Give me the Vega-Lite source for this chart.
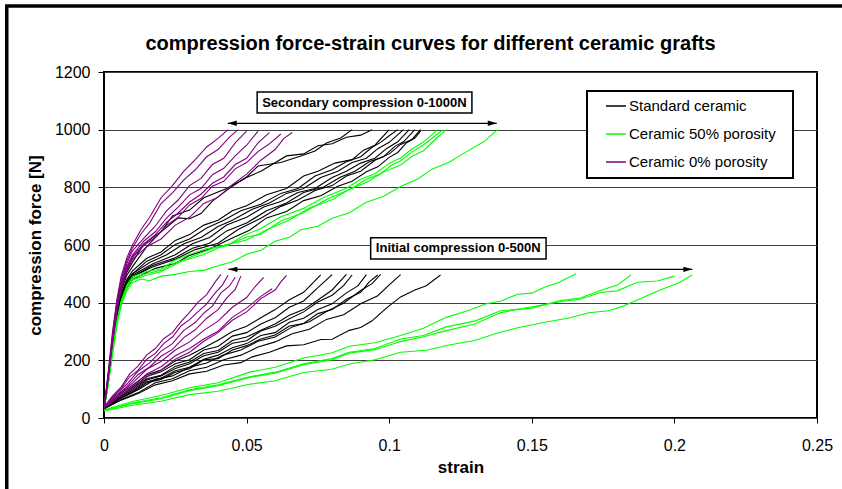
{
"$schema":"https://vega.github.io/schema/vega-lite/v6.json",
"width":713,"height":346,
"autosize":{"type":"none"},
"padding":{"left":104,"top":72,"right":25,"bottom":71},
"background":"#ffffff",
"title":{"text":"compression force-strain curves for different ceramic grafts","fontSize":20,"fontWeight":"bold","font":"Liberation Sans","color":"#000000","anchor":"middle","frame":"group","dx":-30,"offset":-66,"baseline":"alphabetic"},
"datasets":{
"notes":[
{"label":"Secondary compression 0-1000N","x1":0.0537,"x2":0.129,"y1":1130.6,"y2":1057.7,"cx":0.0913,"cy":1094},
{"label":"Initial compression 0-500N","x1":0.0935,"x2":0.155,"y1":625.3,"y2":551.4,"cx":0.1242,"cy":588.5}
],
"arrows":[
{"from":0.0434,"to":0.1377,"level":1022},
{"from":0.0436,"to":0.2063,"level":515.6}
],
"curves":[
{"type":"S","run":"bi1","strain":0,"force":35},{"type":"S","run":"bi1","strain":0.005,"force":80},{"type":"S","run":"bi1","strain":0.01,"force":114},{"type":"S","run":"bi1","strain":0.015,"force":150},{"type":"S","run":"bi1","strain":0.02,"force":166},{"type":"S","run":"bi1","strain":0.025,"force":198},{"type":"S","run":"bi1","strain":0.03,"force":218},{"type":"S","run":"bi1","strain":0.035,"force":244},{"type":"S","run":"bi1","strain":0.04,"force":270},{"type":"S","run":"bi1","strain":0.045,"force":300},{"type":"S","run":"bi1","strain":0.05,"force":318},{"type":"S","run":"bi1","strain":0.055,"force":348},{"type":"S","run":"bi1","strain":0.06,"force":376},{"type":"S","run":"bi1","strain":0.065,"force":410},{"type":"S","run":"bi1","strain":0.07,"force":436},{"type":"S","run":"bi1","strain":0.073,"force":466},{"type":"S","run":"bi1","strain":0.076,"force":496},
{"type":"S","run":"bi2","strain":0,"force":35},{"type":"S","run":"bi2","strain":0.005,"force":74},{"type":"S","run":"bi2","strain":0.01,"force":106},{"type":"S","run":"bi2","strain":0.015,"force":144},{"type":"S","run":"bi2","strain":0.02,"force":160},{"type":"S","run":"bi2","strain":0.025,"force":188},{"type":"S","run":"bi2","strain":0.03,"force":202},{"type":"S","run":"bi2","strain":0.035,"force":236},{"type":"S","run":"bi2","strain":0.04,"force":248},{"type":"S","run":"bi2","strain":0.045,"force":284},{"type":"S","run":"bi2","strain":0.05,"force":296},{"type":"S","run":"bi2","strain":0.055,"force":326},{"type":"S","run":"bi2","strain":0.06,"force":348},{"type":"S","run":"bi2","strain":0.065,"force":384},{"type":"S","run":"bi2","strain":0.07,"force":406},{"type":"S","run":"bi2","strain":0.075,"force":452},{"type":"S","run":"bi2","strain":0.08,"force":497},
{"type":"S","run":"bi3","strain":0,"force":33},{"type":"S","run":"bi3","strain":0.005,"force":72},{"type":"S","run":"bi3","strain":0.01,"force":101},{"type":"S","run":"bi3","strain":0.015,"force":136},{"type":"S","run":"bi3","strain":0.02,"force":148},{"type":"S","run":"bi3","strain":0.025,"force":179},{"type":"S","run":"bi3","strain":0.03,"force":194},{"type":"S","run":"bi3","strain":0.035,"force":224},{"type":"S","run":"bi3","strain":0.04,"force":234},{"type":"S","run":"bi3","strain":0.045,"force":269},{"type":"S","run":"bi3","strain":0.05,"force":281},{"type":"S","run":"bi3","strain":0.055,"force":304},{"type":"S","run":"bi3","strain":0.06,"force":326},{"type":"S","run":"bi3","strain":0.065,"force":356},{"type":"S","run":"bi3","strain":0.07,"force":376},{"type":"S","run":"bi3","strain":0.075,"force":409},{"type":"S","run":"bi3","strain":0.08,"force":444},{"type":"S","run":"bi3","strain":0.085,"force":498},
{"type":"S","run":"bi4","strain":0,"force":34},{"type":"S","run":"bi4","strain":0.005,"force":70},{"type":"S","run":"bi4","strain":0.01,"force":96},{"type":"S","run":"bi4","strain":0.015,"force":132},{"type":"S","run":"bi4","strain":0.02,"force":146},{"type":"S","run":"bi4","strain":0.025,"force":172},{"type":"S","run":"bi4","strain":0.03,"force":188},{"type":"S","run":"bi4","strain":0.035,"force":216},{"type":"S","run":"bi4","strain":0.04,"force":228},{"type":"S","run":"bi4","strain":0.045,"force":259},{"type":"S","run":"bi4","strain":0.05,"force":268},{"type":"S","run":"bi4","strain":0.055,"force":302},{"type":"S","run":"bi4","strain":0.06,"force":318},{"type":"S","run":"bi4","strain":0.065,"force":344},{"type":"S","run":"bi4","strain":0.07,"force":368},{"type":"S","run":"bi4","strain":0.075,"force":402},{"type":"S","run":"bi4","strain":0.08,"force":426},{"type":"S","run":"bi4","strain":0.084,"force":459},{"type":"S","run":"bi4","strain":0.087,"force":496},
{"type":"S","run":"bi5","strain":0,"force":32},{"type":"S","run":"bi5","strain":0.005,"force":67},{"type":"S","run":"bi5","strain":0.01,"force":92},{"type":"S","run":"bi5","strain":0.015,"force":126},{"type":"S","run":"bi5","strain":0.02,"force":138},{"type":"S","run":"bi5","strain":0.025,"force":164},{"type":"S","run":"bi5","strain":0.03,"force":176},{"type":"S","run":"bi5","strain":0.035,"force":204},{"type":"S","run":"bi5","strain":0.04,"force":218},{"type":"S","run":"bi5","strain":0.045,"force":244},{"type":"S","run":"bi5","strain":0.05,"force":258},{"type":"S","run":"bi5","strain":0.055,"force":286},{"type":"S","run":"bi5","strain":0.06,"force":296},{"type":"S","run":"bi5","strain":0.065,"force":332},{"type":"S","run":"bi5","strain":0.07,"force":346},{"type":"S","run":"bi5","strain":0.075,"force":376},{"type":"S","run":"bi5","strain":0.08,"force":396},{"type":"S","run":"bi5","strain":0.085,"force":434},{"type":"S","run":"bi5","strain":0.089,"force":458},{"type":"S","run":"bi5","strain":0.092,"force":497},
{"type":"S","run":"bi6","strain":0,"force":32},{"type":"S","run":"bi6","strain":0.005,"force":64},{"type":"S","run":"bi6","strain":0.01,"force":88},{"type":"S","run":"bi6","strain":0.015,"force":122},{"type":"S","run":"bi6","strain":0.02,"force":134},{"type":"S","run":"bi6","strain":0.025,"force":159},{"type":"S","run":"bi6","strain":0.03,"force":171},{"type":"S","run":"bi6","strain":0.035,"force":202},{"type":"S","run":"bi6","strain":0.04,"force":206},{"type":"S","run":"bi6","strain":0.045,"force":236},{"type":"S","run":"bi6","strain":0.05,"force":251},{"type":"S","run":"bi6","strain":0.055,"force":274},{"type":"S","run":"bi6","strain":0.06,"force":288},{"type":"S","run":"bi6","strain":0.065,"force":319},{"type":"S","run":"bi6","strain":0.07,"force":328},{"type":"S","run":"bi6","strain":0.075,"force":362},{"type":"S","run":"bi6","strain":0.08,"force":376},{"type":"S","run":"bi6","strain":0.085,"force":412},{"type":"S","run":"bi6","strain":0.09,"force":436},{"type":"S","run":"bi6","strain":0.093,"force":472},{"type":"S","run":"bi6","strain":0.096,"force":496},
{"type":"S","run":"bi7","strain":0,"force":33},{"type":"S","run":"bi7","strain":0.006,"force":70},{"type":"S","run":"bi7","strain":0.012,"force":98},{"type":"S","run":"bi7","strain":0.018,"force":134},{"type":"S","run":"bi7","strain":0.024,"force":146},{"type":"S","run":"bi7","strain":0.03,"force":176},{"type":"S","run":"bi7","strain":0.036,"force":191},{"type":"S","run":"bi7","strain":0.042,"force":219},{"type":"S","run":"bi7","strain":0.048,"force":236},{"type":"S","run":"bi7","strain":0.054,"force":266},{"type":"S","run":"bi7","strain":0.06,"force":281},{"type":"S","run":"bi7","strain":0.066,"force":316},{"type":"S","run":"bi7","strain":0.072,"force":334},{"type":"S","run":"bi7","strain":0.078,"force":369},{"type":"S","run":"bi7","strain":0.084,"force":398},{"type":"S","run":"bi7","strain":0.09,"force":442},{"type":"S","run":"bi7","strain":0.094,"force":466},{"type":"S","run":"bi7","strain":0.097,"force":498},
{"type":"S","run":"bi8","strain":0,"force":32},{"type":"S","run":"bi8","strain":0.006,"force":64},{"type":"S","run":"bi8","strain":0.012,"force":88},{"type":"S","run":"bi8","strain":0.018,"force":122},{"type":"S","run":"bi8","strain":0.024,"force":136},{"type":"S","run":"bi8","strain":0.03,"force":164},{"type":"S","run":"bi8","strain":0.036,"force":176},{"type":"S","run":"bi8","strain":0.042,"force":202},{"type":"S","run":"bi8","strain":0.048,"force":218},{"type":"S","run":"bi8","strain":0.054,"force":246},{"type":"S","run":"bi8","strain":0.06,"force":264},{"type":"S","run":"bi8","strain":0.066,"force":292},{"type":"S","run":"bi8","strain":0.072,"force":308},{"type":"S","run":"bi8","strain":0.078,"force":342},{"type":"S","run":"bi8","strain":0.084,"force":358},{"type":"S","run":"bi8","strain":0.09,"force":396},{"type":"S","run":"bi8","strain":0.096,"force":424},{"type":"S","run":"bi8","strain":0.1,"force":462},{"type":"S","run":"bi8","strain":0.104,"force":497},
{"type":"S","run":"bi9","strain":0,"force":32},{"type":"S","run":"bi9","strain":0.006,"force":62},{"type":"S","run":"bi9","strain":0.012,"force":85},{"type":"S","run":"bi9","strain":0.018,"force":115},{"type":"S","run":"bi9","strain":0.024,"force":129},{"type":"S","run":"bi9","strain":0.03,"force":153},{"type":"S","run":"bi9","strain":0.036,"force":162},{"type":"S","run":"bi9","strain":0.042,"force":184},{"type":"S","run":"bi9","strain":0.048,"force":192},{"type":"S","run":"bi9","strain":0.052,"force":212},{"type":"S","run":"bi9","strain":0.058,"force":228},{"type":"S","run":"bi9","strain":0.064,"force":250},{"type":"S","run":"bi9","strain":0.07,"force":254},{"type":"S","run":"bi9","strain":0.076,"force":272},{"type":"S","run":"bi9","strain":0.08,"force":273},{"type":"S","run":"bi9","strain":0.086,"force":304},{"type":"S","run":"bi9","strain":0.09,"force":314},{"type":"S","run":"bi9","strain":0.094,"force":337},{"type":"S","run":"bi9","strain":0.099,"force":381},{"type":"S","run":"bi9","strain":0.104,"force":420},{"type":"S","run":"bi9","strain":0.109,"force":444},{"type":"S","run":"bi9","strain":0.113,"force":459},{"type":"S","run":"bi9","strain":0.118,"force":496},
{"type":"S","run":"bs1","strain":0,"force":30},{"type":"S","run":"bs1","strain":0.0015,"force":145},{"type":"S","run":"bs1","strain":0.003,"force":270},{"type":"S","run":"bs1","strain":0.0045,"force":375},{"type":"S","run":"bs1","strain":0.006,"force":450},{"type":"S","run":"bs1","strain":0.008,"force":505},{"type":"S","run":"bs1","strain":0.01,"force":540},{"type":"S","run":"bs1","strain":0.014,"force":604},{"type":"S","run":"bs1","strain":0.02,"force":646},{"type":"S","run":"bs1","strain":0.026,"force":694},{"type":"S","run":"bs1","strain":0.03,"force":691},{"type":"S","run":"bs1","strain":0.034,"force":709},{"type":"S","run":"bs1","strain":0.038,"force":752},{"type":"S","run":"bs1","strain":0.045,"force":804},{"type":"S","run":"bs1","strain":0.05,"force":836},{"type":"S","run":"bs1","strain":0.054,"force":874},{"type":"S","run":"bs1","strain":0.062,"force":886},{"type":"S","run":"bs1","strain":0.069,"force":909},{"type":"S","run":"bs1","strain":0.074,"force":926},{"type":"S","run":"bs1","strain":0.078,"force":954},{"type":"S","run":"bs1","strain":0.083,"force":971},{"type":"S","run":"bs1","strain":0.087,"force":1000},
{"type":"S","run":"bs2","strain":0,"force":30},{"type":"S","run":"bs2","strain":0.0015,"force":140},{"type":"S","run":"bs2","strain":0.003,"force":265},{"type":"S","run":"bs2","strain":0.0045,"force":370},{"type":"S","run":"bs2","strain":0.006,"force":440},{"type":"S","run":"bs2","strain":0.008,"force":495},{"type":"S","run":"bs2","strain":0.01,"force":525},{"type":"S","run":"bs2","strain":0.015,"force":594},{"type":"S","run":"bs2","strain":0.02,"force":646},{"type":"S","run":"bs2","strain":0.024,"force":701},{"type":"S","run":"bs2","strain":0.03,"force":721},{"type":"S","run":"bs2","strain":0.035,"force":764},{"type":"S","run":"bs2","strain":0.043,"force":796},{"type":"S","run":"bs2","strain":0.05,"force":834},{"type":"S","run":"bs2","strain":0.055,"force":856},{"type":"S","run":"bs2","strain":0.064,"force":909},{"type":"S","run":"bs2","strain":0.07,"force":916},{"type":"S","run":"bs2","strain":0.075,"force":944},{"type":"S","run":"bs2","strain":0.08,"force":951},{"type":"S","run":"bs2","strain":0.085,"force":974},{"type":"S","run":"bs2","strain":0.09,"force":981},{"type":"S","run":"bs2","strain":0.094,"force":1000},
{"type":"S","run":"bs3","strain":0,"force":30},{"type":"S","run":"bs3","strain":0.0015,"force":138},{"type":"S","run":"bs3","strain":0.003,"force":260},{"type":"S","run":"bs3","strain":0.0045,"force":360},{"type":"S","run":"bs3","strain":0.006,"force":430},{"type":"S","run":"bs3","strain":0.008,"force":480},{"type":"S","run":"bs3","strain":0.01,"force":510},{"type":"S","run":"bs3","strain":0.015,"force":554},{"type":"S","run":"bs3","strain":0.02,"force":576},{"type":"S","run":"bs3","strain":0.025,"force":616},{"type":"S","run":"bs3","strain":0.03,"force":636},{"type":"S","run":"bs3","strain":0.035,"force":669},{"type":"S","run":"bs3","strain":0.04,"force":686},{"type":"S","run":"bs3","strain":0.045,"force":719},{"type":"S","run":"bs3","strain":0.05,"force":736},{"type":"S","run":"bs3","strain":0.057,"force":774},{"type":"S","run":"bs3","strain":0.064,"force":796},{"type":"S","run":"bs3","strain":0.07,"force":839},{"type":"S","run":"bs3","strain":0.075,"force":856},{"type":"S","run":"bs3","strain":0.081,"force":884},{"type":"S","run":"bs3","strain":0.087,"force":896},{"type":"S","run":"bs3","strain":0.091,"force":929},{"type":"S","run":"bs3","strain":0.095,"force":946},{"type":"S","run":"bs3","strain":0.1,"force":1000},
{"type":"S","run":"bs4","strain":0,"force":30},{"type":"S","run":"bs4","strain":0.0015,"force":135},{"type":"S","run":"bs4","strain":0.003,"force":255},{"type":"S","run":"bs4","strain":0.0045,"force":355},{"type":"S","run":"bs4","strain":0.006,"force":425},{"type":"S","run":"bs4","strain":0.008,"force":475},{"type":"S","run":"bs4","strain":0.01,"force":500},{"type":"S","run":"bs4","strain":0.015,"force":544},{"type":"S","run":"bs4","strain":0.02,"force":566},{"type":"S","run":"bs4","strain":0.025,"force":602},{"type":"S","run":"bs4","strain":0.03,"force":621},{"type":"S","run":"bs4","strain":0.036,"force":659},{"type":"S","run":"bs4","strain":0.042,"force":686},{"type":"S","run":"bs4","strain":0.048,"force":719},{"type":"S","run":"bs4","strain":0.055,"force":741},{"type":"S","run":"bs4","strain":0.062,"force":779},{"type":"S","run":"bs4","strain":0.068,"force":796},{"type":"S","run":"bs4","strain":0.074,"force":839},{"type":"S","run":"bs4","strain":0.08,"force":861},{"type":"S","run":"bs4","strain":0.085,"force":889},{"type":"S","run":"bs4","strain":0.09,"force":906},{"type":"S","run":"bs4","strain":0.094,"force":939},{"type":"S","run":"bs4","strain":0.097,"force":956},{"type":"S","run":"bs4","strain":0.1,"force":979},{"type":"S","run":"bs4","strain":0.103,"force":1000},
{"type":"S","run":"bs5","strain":0,"force":30},{"type":"S","run":"bs5","strain":0.0015,"force":132},{"type":"S","run":"bs5","strain":0.003,"force":250},{"type":"S","run":"bs5","strain":0.0045,"force":350},{"type":"S","run":"bs5","strain":0.006,"force":420},{"type":"S","run":"bs5","strain":0.008,"force":470},{"type":"S","run":"bs5","strain":0.01,"force":500},{"type":"S","run":"bs5","strain":0.016,"force":539},{"type":"S","run":"bs5","strain":0.022,"force":566},{"type":"S","run":"bs5","strain":0.028,"force":604},{"type":"S","run":"bs5","strain":0.034,"force":626},{"type":"S","run":"bs5","strain":0.04,"force":664},{"type":"S","run":"bs5","strain":0.045,"force":686},{"type":"S","run":"bs5","strain":0.052,"force":724},{"type":"S","run":"bs5","strain":0.058,"force":746},{"type":"S","run":"bs5","strain":0.064,"force":779},{"type":"S","run":"bs5","strain":0.07,"force":796},{"type":"S","run":"bs5","strain":0.076,"force":834},{"type":"S","run":"bs5","strain":0.082,"force":856},{"type":"S","run":"bs5","strain":0.087,"force":886},{"type":"S","run":"bs5","strain":0.092,"force":901},{"type":"S","run":"bs5","strain":0.096,"force":934},{"type":"S","run":"bs5","strain":0.1,"force":956},{"type":"S","run":"bs5","strain":0.105,"force":1000},
{"type":"S","run":"bs6","strain":0,"force":30},{"type":"S","run":"bs6","strain":0.0015,"force":130},{"type":"S","run":"bs6","strain":0.003,"force":248},{"type":"S","run":"bs6","strain":0.0045,"force":345},{"type":"S","run":"bs6","strain":0.006,"force":415},{"type":"S","run":"bs6","strain":0.008,"force":465},{"type":"S","run":"bs6","strain":0.01,"force":495},{"type":"S","run":"bs6","strain":0.017,"force":534},{"type":"S","run":"bs6","strain":0.025,"force":566},{"type":"S","run":"bs6","strain":0.031,"force":604},{"type":"S","run":"bs6","strain":0.037,"force":626},{"type":"S","run":"bs6","strain":0.043,"force":669},{"type":"S","run":"bs6","strain":0.05,"force":696},{"type":"S","run":"bs6","strain":0.056,"force":732},{"type":"S","run":"bs6","strain":0.062,"force":751},{"type":"S","run":"bs6","strain":0.068,"force":782},{"type":"S","run":"bs6","strain":0.074,"force":796},{"type":"S","run":"bs6","strain":0.08,"force":834},{"type":"S","run":"bs6","strain":0.085,"force":856},{"type":"S","run":"bs6","strain":0.09,"force":884},{"type":"S","run":"bs6","strain":0.095,"force":901},{"type":"S","run":"bs6","strain":0.099,"force":934},{"type":"S","run":"bs6","strain":0.103,"force":958},{"type":"S","run":"bs6","strain":0.107,"force":1000},
{"type":"S","run":"bs7","strain":0,"force":30},{"type":"S","run":"bs7","strain":0.0015,"force":128},{"type":"S","run":"bs7","strain":0.003,"force":245},{"type":"S","run":"bs7","strain":0.0045,"force":340},{"type":"S","run":"bs7","strain":0.006,"force":410},{"type":"S","run":"bs7","strain":0.008,"force":460},{"type":"S","run":"bs7","strain":0.01,"force":490},{"type":"S","run":"bs7","strain":0.017,"force":529},{"type":"S","run":"bs7","strain":0.025,"force":556},{"type":"S","run":"bs7","strain":0.031,"force":589},{"type":"S","run":"bs7","strain":0.037,"force":606},{"type":"S","run":"bs7","strain":0.043,"force":649},{"type":"S","run":"bs7","strain":0.05,"force":676},{"type":"S","run":"bs7","strain":0.057,"force":719},{"type":"S","run":"bs7","strain":0.064,"force":746},{"type":"S","run":"bs7","strain":0.07,"force":782},{"type":"S","run":"bs7","strain":0.077,"force":801},{"type":"S","run":"bs7","strain":0.083,"force":836},{"type":"S","run":"bs7","strain":0.088,"force":856},{"type":"S","run":"bs7","strain":0.093,"force":889},{"type":"S","run":"bs7","strain":0.098,"force":906},{"type":"S","run":"bs7","strain":0.102,"force":942},{"type":"S","run":"bs7","strain":0.105,"force":958},{"type":"S","run":"bs7","strain":0.109,"force":1000},
{"type":"S","run":"bs8","strain":0,"force":30},{"type":"S","run":"bs8","strain":0.0015,"force":126},{"type":"S","run":"bs8","strain":0.003,"force":240},{"type":"S","run":"bs8","strain":0.0045,"force":335},{"type":"S","run":"bs8","strain":0.006,"force":405},{"type":"S","run":"bs8","strain":0.008,"force":455},{"type":"S","run":"bs8","strain":0.01,"force":490},{"type":"S","run":"bs8","strain":0.017,"force":524},{"type":"S","run":"bs8","strain":0.025,"force":551},{"type":"S","run":"bs8","strain":0.032,"force":584},{"type":"S","run":"bs8","strain":0.04,"force":606},{"type":"S","run":"bs8","strain":0.047,"force":654},{"type":"S","run":"bs8","strain":0.055,"force":693},{"type":"S","run":"bs8","strain":0.062,"force":734},{"type":"S","run":"bs8","strain":0.068,"force":756},{"type":"S","run":"bs8","strain":0.074,"force":789},{"type":"S","run":"bs8","strain":0.08,"force":806},{"type":"S","run":"bs8","strain":0.085,"force":839},{"type":"S","run":"bs8","strain":0.09,"force":856},{"type":"S","run":"bs8","strain":0.095,"force":894},{"type":"S","run":"bs8","strain":0.1,"force":916},{"type":"S","run":"bs8","strain":0.104,"force":949},{"type":"S","run":"bs8","strain":0.108,"force":966},{"type":"S","run":"bs8","strain":0.111,"force":1000},
{"type":"S","run":"bs9","strain":0,"force":30},{"type":"S","run":"bs9","strain":0.0015,"force":125},{"type":"S","run":"bs9","strain":0.003,"force":235},{"type":"S","run":"bs9","strain":0.0045,"force":330},{"type":"S","run":"bs9","strain":0.006,"force":400},{"type":"S","run":"bs9","strain":0.008,"force":450},{"type":"S","run":"bs9","strain":0.01,"force":480},{"type":"S","run":"bs9","strain":0.018,"force":519},{"type":"S","run":"bs9","strain":0.025,"force":536},{"type":"S","run":"bs9","strain":0.03,"force":564},{"type":"S","run":"bs9","strain":0.037,"force":586},{"type":"S","run":"bs9","strain":0.045,"force":624},{"type":"S","run":"bs9","strain":0.051,"force":651},{"type":"S","run":"bs9","strain":0.057,"force":694},{"type":"S","run":"bs9","strain":0.064,"force":716},{"type":"S","run":"bs9","strain":0.07,"force":754},{"type":"S","run":"bs9","strain":0.076,"force":771},{"type":"S","run":"bs9","strain":0.082,"force":804},{"type":"S","run":"bs9","strain":0.087,"force":821},{"type":"S","run":"bs9","strain":0.092,"force":854},{"type":"S","run":"bs9","strain":0.096,"force":871},{"type":"S","run":"bs9","strain":0.1,"force":904},{"type":"S","run":"bs9","strain":0.103,"force":921},{"type":"S","run":"bs9","strain":0.106,"force":954},{"type":"S","run":"bs9","strain":0.109,"force":971},{"type":"S","run":"bs9","strain":0.111,"force":995},
{"type":"G","run":"gi1","strain":0,"force":28},{"type":"G","run":"gi1","strain":0.01,"force":57},{"type":"G","run":"gi1","strain":0.02,"force":78},{"type":"G","run":"gi1","strain":0.03,"force":105},{"type":"G","run":"gi1","strain":0.04,"force":122},{"type":"G","run":"gi1","strain":0.051,"force":159},{"type":"G","run":"gi1","strain":0.06,"force":176},{"type":"G","run":"gi1","strain":0.07,"force":208},{"type":"G","run":"gi1","strain":0.08,"force":226},{"type":"G","run":"gi1","strain":0.086,"force":249},{"type":"G","run":"gi1","strain":0.095,"force":261},{"type":"G","run":"gi1","strain":0.104,"force":286},{"type":"G","run":"gi1","strain":0.112,"force":311},{"type":"G","run":"gi1","strain":0.12,"force":349},{"type":"G","run":"gi1","strain":0.128,"force":374},{"type":"G","run":"gi1","strain":0.134,"force":396},{"type":"G","run":"gi1","strain":0.139,"force":405},{"type":"G","run":"gi1","strain":0.145,"force":429},{"type":"G","run":"gi1","strain":0.15,"force":433},{"type":"G","run":"gi1","strain":0.155,"force":456},{"type":"G","run":"gi1","strain":0.159,"force":468},{"type":"G","run":"gi1","strain":0.1655,"force":500},
{"type":"G","run":"gi2","strain":0,"force":26},{"type":"G","run":"gi2","strain":0.01,"force":52},{"type":"G","run":"gi2","strain":0.02,"force":70},{"type":"G","run":"gi2","strain":0.03,"force":98},{"type":"G","run":"gi2","strain":0.04,"force":115},{"type":"G","run":"gi2","strain":0.051,"force":143},{"type":"G","run":"gi2","strain":0.06,"force":159},{"type":"G","run":"gi2","strain":0.07,"force":188},{"type":"G","run":"gi2","strain":0.08,"force":206},{"type":"G","run":"gi2","strain":0.086,"force":228},{"type":"G","run":"gi2","strain":0.095,"force":241},{"type":"G","run":"gi2","strain":0.104,"force":274},{"type":"G","run":"gi2","strain":0.112,"force":286},{"type":"G","run":"gi2","strain":0.12,"force":316},{"type":"G","run":"gi2","strain":0.13,"force":336},{"type":"G","run":"gi2","strain":0.139,"force":372},{"type":"G","run":"gi2","strain":0.15,"force":381},{"type":"G","run":"gi2","strain":0.16,"force":407},{"type":"G","run":"gi2","strain":0.167,"force":416},{"type":"G","run":"gi2","strain":0.174,"force":442},{"type":"G","run":"gi2","strain":0.18,"force":461},{"type":"G","run":"gi2","strain":0.1848,"force":496},
{"type":"G","run":"gi3","strain":0,"force":25},{"type":"G","run":"gi3","strain":0.01,"force":50},{"type":"G","run":"gi3","strain":0.02,"force":67},{"type":"G","run":"gi3","strain":0.03,"force":95},{"type":"G","run":"gi3","strain":0.04,"force":112},{"type":"G","run":"gi3","strain":0.051,"force":141},{"type":"G","run":"gi3","strain":0.06,"force":155},{"type":"G","run":"gi3","strain":0.07,"force":185},{"type":"G","run":"gi3","strain":0.08,"force":202},{"type":"G","run":"gi3","strain":0.086,"force":225},{"type":"G","run":"gi3","strain":0.095,"force":237},{"type":"G","run":"gi3","strain":0.104,"force":265},{"type":"G","run":"gi3","strain":0.112,"force":282},{"type":"G","run":"gi3","strain":0.12,"force":303},{"type":"G","run":"gi3","strain":0.13,"force":326},{"type":"G","run":"gi3","strain":0.139,"force":365},{"type":"G","run":"gi3","strain":0.15,"force":386},{"type":"G","run":"gi3","strain":0.16,"force":403},{"type":"G","run":"gi3","strain":0.167,"force":412},{"type":"G","run":"gi3","strain":0.174,"force":435},{"type":"G","run":"gi3","strain":0.18,"force":441},{"type":"G","run":"gi3","strain":0.187,"force":471},{"type":"G","run":"gi3","strain":0.194,"force":475},{"type":"G","run":"gi3","strain":0.2,"force":492},
{"type":"G","run":"gi4","strain":0,"force":24},{"type":"G","run":"gi4","strain":0.01,"force":44},{"type":"G","run":"gi4","strain":0.02,"force":58},{"type":"G","run":"gi4","strain":0.03,"force":81},{"type":"G","run":"gi4","strain":0.04,"force":93},{"type":"G","run":"gi4","strain":0.051,"force":117},{"type":"G","run":"gi4","strain":0.06,"force":129},{"type":"G","run":"gi4","strain":0.07,"force":158},{"type":"G","run":"gi4","strain":0.08,"force":169},{"type":"G","run":"gi4","strain":0.086,"force":187},{"type":"G","run":"gi4","strain":0.095,"force":202},{"type":"G","run":"gi4","strain":0.104,"force":228},{"type":"G","run":"gi4","strain":0.113,"force":235},{"type":"G","run":"gi4","strain":0.121,"force":253},{"type":"G","run":"gi4","strain":0.13,"force":269},{"type":"G","run":"gi4","strain":0.138,"force":295},{"type":"G","run":"gi4","strain":0.145,"force":313},{"type":"G","run":"gi4","strain":0.155,"force":333},{"type":"G","run":"gi4","strain":0.163,"force":347},{"type":"G","run":"gi4","strain":0.17,"force":365},{"type":"G","run":"gi4","strain":0.177,"force":372},{"type":"G","run":"gi4","strain":0.182,"force":388},{"type":"G","run":"gi4","strain":0.187,"force":409},{"type":"G","run":"gi4","strain":0.192,"force":431},{"type":"G","run":"gi4","strain":0.197,"force":452},{"type":"G","run":"gi4","strain":0.202,"force":471},{"type":"G","run":"gi4","strain":0.2062,"force":496},
{"type":"G","run":"gs1","strain":0,"force":28},{"type":"G","run":"gs1","strain":0.0015,"force":125},{"type":"G","run":"gs1","strain":0.003,"force":235},{"type":"G","run":"gs1","strain":0.0045,"force":335},{"type":"G","run":"gs1","strain":0.006,"force":405},{"type":"G","run":"gs1","strain":0.008,"force":460},{"type":"G","run":"gs1","strain":0.01,"force":490},{"type":"G","run":"gs1","strain":0.015,"force":508},{"type":"G","run":"gs1","strain":0.02,"force":517},{"type":"G","run":"gs1","strain":0.025,"force":548},{"type":"G","run":"gs1","strain":0.03,"force":567},{"type":"G","run":"gs1","strain":0.036,"force":588},{"type":"G","run":"gs1","strain":0.043,"force":597},{"type":"G","run":"gs1","strain":0.049,"force":633},{"type":"G","run":"gs1","strain":0.055,"force":657},{"type":"G","run":"gs1","strain":0.062,"force":698},{"type":"G","run":"gs1","strain":0.07,"force":727},{"type":"G","run":"gs1","strain":0.077,"force":765},{"type":"G","run":"gs1","strain":0.085,"force":797},{"type":"G","run":"gs1","strain":0.09,"force":828},{"type":"G","run":"gs1","strain":0.095,"force":847},{"type":"G","run":"gs1","strain":0.1,"force":883},{"type":"G","run":"gs1","strain":0.104,"force":902},{"type":"G","run":"gs1","strain":0.108,"force":933},{"type":"G","run":"gs1","strain":0.112,"force":957},{"type":"G","run":"gs1","strain":0.117,"force":1000},
{"type":"G","run":"gs2","strain":0,"force":28},{"type":"G","run":"gs2","strain":0.0015,"force":122},{"type":"G","run":"gs2","strain":0.003,"force":232},{"type":"G","run":"gs2","strain":0.0045,"force":332},{"type":"G","run":"gs2","strain":0.006,"force":402},{"type":"G","run":"gs2","strain":0.008,"force":455},{"type":"G","run":"gs2","strain":0.01,"force":485},{"type":"G","run":"gs2","strain":0.015,"force":501},{"type":"G","run":"gs2","strain":0.02,"force":512},{"type":"G","run":"gs2","strain":0.025,"force":538},{"type":"G","run":"gs2","strain":0.03,"force":557},{"type":"G","run":"gs2","strain":0.038,"force":588},{"type":"G","run":"gs2","strain":0.045,"force":607},{"type":"G","run":"gs2","strain":0.05,"force":628},{"type":"G","run":"gs2","strain":0.055,"force":637},{"type":"G","run":"gs2","strain":0.062,"force":683},{"type":"G","run":"gs2","strain":0.07,"force":712},{"type":"G","run":"gs2","strain":0.078,"force":758},{"type":"G","run":"gs2","strain":0.087,"force":797},{"type":"G","run":"gs2","strain":0.092,"force":828},{"type":"G","run":"gs2","strain":0.097,"force":847},{"type":"G","run":"gs2","strain":0.101,"force":878},{"type":"G","run":"gs2","strain":0.104,"force":892},{"type":"G","run":"gs2","strain":0.108,"force":923},{"type":"G","run":"gs2","strain":0.112,"force":947},{"type":"G","run":"gs2","strain":0.116,"force":978},{"type":"G","run":"gs2","strain":0.119,"force":1000},
{"type":"G","run":"gs3","strain":0,"force":27},{"type":"G","run":"gs3","strain":0.0015,"force":120},{"type":"G","run":"gs3","strain":0.003,"force":228},{"type":"G","run":"gs3","strain":0.0045,"force":328},{"type":"G","run":"gs3","strain":0.006,"force":398},{"type":"G","run":"gs3","strain":0.008,"force":450},{"type":"G","run":"gs3","strain":0.01,"force":480},{"type":"G","run":"gs3","strain":0.015,"force":495},{"type":"G","run":"gs3","strain":0.02,"force":507},{"type":"G","run":"gs3","strain":0.027,"force":543},{"type":"G","run":"gs3","strain":0.035,"force":567},{"type":"G","run":"gs3","strain":0.042,"force":598},{"type":"G","run":"gs3","strain":0.05,"force":617},{"type":"G","run":"gs3","strain":0.057,"force":653},{"type":"G","run":"gs3","strain":0.065,"force":687},{"type":"G","run":"gs3","strain":0.072,"force":728},{"type":"G","run":"gs3","strain":0.08,"force":757},{"type":"G","run":"gs3","strain":0.086,"force":793},{"type":"G","run":"gs3","strain":0.092,"force":817},{"type":"G","run":"gs3","strain":0.098,"force":853},{"type":"G","run":"gs3","strain":0.104,"force":877},{"type":"G","run":"gs3","strain":0.108,"force":908},{"type":"G","run":"gs3","strain":0.112,"force":927},{"type":"G","run":"gs3","strain":0.116,"force":965},{"type":"G","run":"gs3","strain":0.12,"force":1000},
{"type":"G","run":"gs4","strain":0,"force":26},{"type":"G","run":"gs4","strain":0.0015,"force":115},{"type":"G","run":"gs4","strain":0.003,"force":220},{"type":"G","run":"gs4","strain":0.0045,"force":320},{"type":"G","run":"gs4","strain":0.006,"force":390},{"type":"G","run":"gs4","strain":0.008,"force":440},{"type":"G","run":"gs4","strain":0.01,"force":470},{"type":"G","run":"gs4","strain":0.013,"force":482},{"type":"G","run":"gs4","strain":0.016,"force":476},{"type":"G","run":"gs4","strain":0.02,"force":492},{"type":"G","run":"gs4","strain":0.025,"force":498},{"type":"G","run":"gs4","strain":0.03,"force":508},{"type":"G","run":"gs4","strain":0.035,"force":512},{"type":"G","run":"gs4","strain":0.04,"force":528},{"type":"G","run":"gs4","strain":0.045,"force":542},{"type":"G","run":"gs4","strain":0.05,"force":568},{"type":"G","run":"gs4","strain":0.055,"force":582},{"type":"G","run":"gs4","strain":0.06,"force":613},{"type":"G","run":"gs4","strain":0.065,"force":627},{"type":"G","run":"gs4","strain":0.069,"force":653},{"type":"G","run":"gs4","strain":0.075,"force":665},{"type":"G","run":"gs4","strain":0.08,"force":693},{"type":"G","run":"gs4","strain":0.086,"force":712},{"type":"G","run":"gs4","strain":0.092,"force":748},{"type":"G","run":"gs4","strain":0.098,"force":769},{"type":"G","run":"gs4","strain":0.104,"force":803},{"type":"G","run":"gs4","strain":0.11,"force":829},{"type":"G","run":"gs4","strain":0.115,"force":863},{"type":"G","run":"gs4","strain":0.121,"force":887},{"type":"G","run":"gs4","strain":0.127,"force":923},{"type":"G","run":"gs4","strain":0.133,"force":957},{"type":"G","run":"gs4","strain":0.138,"force":1000},
{"type":"P","run":"pi1","strain":0,"force":38},{"type":"P","run":"pi1","strain":0.003,"force":77},{"type":"P","run":"pi1","strain":0.006,"force":107},{"type":"P","run":"pi1","strain":0.009,"force":153},{"type":"P","run":"pi1","strain":0.012,"force":181},{"type":"P","run":"pi1","strain":0.015,"force":219},{"type":"P","run":"pi1","strain":0.018,"force":241},{"type":"P","run":"pi1","strain":0.021,"force":276},{"type":"P","run":"pi1","strain":0.024,"force":296},{"type":"P","run":"pi1","strain":0.027,"force":334},{"type":"P","run":"pi1","strain":0.03,"force":366},{"type":"P","run":"pi1","strain":0.033,"force":402},{"type":"P","run":"pi1","strain":0.036,"force":428},{"type":"P","run":"pi1","strain":0.039,"force":472},{"type":"P","run":"pi1","strain":0.041,"force":498},
{"type":"P","run":"pi2","strain":0,"force":36},{"type":"P","run":"pi2","strain":0.003,"force":72},{"type":"P","run":"pi2","strain":0.006,"force":102},{"type":"P","run":"pi2","strain":0.009,"force":143},{"type":"P","run":"pi2","strain":0.012,"force":166},{"type":"P","run":"pi2","strain":0.015,"force":204},{"type":"P","run":"pi2","strain":0.018,"force":224},{"type":"P","run":"pi2","strain":0.021,"force":259},{"type":"P","run":"pi2","strain":0.024,"force":281},{"type":"P","run":"pi2","strain":0.027,"force":319},{"type":"P","run":"pi2","strain":0.03,"force":341},{"type":"P","run":"pi2","strain":0.033,"force":369},{"type":"P","run":"pi2","strain":0.036,"force":396},{"type":"P","run":"pi2","strain":0.039,"force":434},{"type":"P","run":"pi2","strain":0.0415,"force":461},{"type":"P","run":"pi2","strain":0.0435,"force":495},
{"type":"P","run":"pi3","strain":0,"force":36},{"type":"P","run":"pi3","strain":0.004,"force":82},{"type":"P","run":"pi3","strain":0.008,"force":117},{"type":"P","run":"pi3","strain":0.012,"force":163},{"type":"P","run":"pi3","strain":0.016,"force":191},{"type":"P","run":"pi3","strain":0.02,"force":232},{"type":"P","run":"pi3","strain":0.024,"force":258},{"type":"P","run":"pi3","strain":0.028,"force":304},{"type":"P","run":"pi3","strain":0.032,"force":331},{"type":"P","run":"pi3","strain":0.035,"force":364},{"type":"P","run":"pi3","strain":0.038,"force":388},{"type":"P","run":"pi3","strain":0.041,"force":434},{"type":"P","run":"pi3","strain":0.044,"force":458},{"type":"P","run":"pi3","strain":0.046,"force":488},
{"type":"P","run":"pi4","strain":0,"force":35},{"type":"P","run":"pi4","strain":0.004,"force":77},{"type":"P","run":"pi4","strain":0.008,"force":109},{"type":"P","run":"pi4","strain":0.012,"force":151},{"type":"P","run":"pi4","strain":0.016,"force":177},{"type":"P","run":"pi4","strain":0.02,"force":214},{"type":"P","run":"pi4","strain":0.024,"force":238},{"type":"P","run":"pi4","strain":0.028,"force":279},{"type":"P","run":"pi4","strain":0.032,"force":306},{"type":"P","run":"pi4","strain":0.036,"force":346},{"type":"P","run":"pi4","strain":0.04,"force":376},{"type":"P","run":"pi4","strain":0.043,"force":416},{"type":"P","run":"pi4","strain":0.046,"force":446},{"type":"P","run":"pi4","strain":0.048,"force":492},
{"type":"P","run":"pi5","strain":0,"force":35},{"type":"P","run":"pi5","strain":0.005,"force":82},{"type":"P","run":"pi5","strain":0.01,"force":121},{"type":"P","run":"pi5","strain":0.015,"force":169},{"type":"P","run":"pi5","strain":0.02,"force":196},{"type":"P","run":"pi5","strain":0.025,"force":236},{"type":"P","run":"pi5","strain":0.03,"force":264},{"type":"P","run":"pi5","strain":0.035,"force":304},{"type":"P","run":"pi5","strain":0.04,"force":336},{"type":"P","run":"pi5","strain":0.045,"force":384},{"type":"P","run":"pi5","strain":0.05,"force":418},{"type":"P","run":"pi5","strain":0.053,"force":456},{"type":"P","run":"pi5","strain":0.056,"force":488},
{"type":"P","run":"pi6","strain":0,"force":34},{"type":"P","run":"pi6","strain":0.005,"force":74},{"type":"P","run":"pi6","strain":0.01,"force":109},{"type":"P","run":"pi6","strain":0.015,"force":153},{"type":"P","run":"pi6","strain":0.02,"force":178},{"type":"P","run":"pi6","strain":0.025,"force":216},{"type":"P","run":"pi6","strain":0.03,"force":241},{"type":"P","run":"pi6","strain":0.035,"force":274},{"type":"P","run":"pi6","strain":0.04,"force":301},{"type":"P","run":"pi6","strain":0.045,"force":349},{"type":"P","run":"pi6","strain":0.05,"force":381},{"type":"P","run":"pi6","strain":0.055,"force":422},{"type":"P","run":"pi6","strain":0.059,"force":448},
{"type":"P","run":"pi7","strain":0,"force":34},{"type":"P","run":"pi7","strain":0.005,"force":72},{"type":"P","run":"pi7","strain":0.01,"force":102},{"type":"P","run":"pi7","strain":0.015,"force":143},{"type":"P","run":"pi7","strain":0.02,"force":166},{"type":"P","run":"pi7","strain":0.025,"force":204},{"type":"P","run":"pi7","strain":0.03,"force":228},{"type":"P","run":"pi7","strain":0.035,"force":266},{"type":"P","run":"pi7","strain":0.04,"force":296},{"type":"P","run":"pi7","strain":0.045,"force":339},{"type":"P","run":"pi7","strain":0.05,"force":368},{"type":"P","run":"pi7","strain":0.055,"force":414},{"type":"P","run":"pi7","strain":0.06,"force":444},{"type":"P","run":"pi7","strain":0.062,"force":472},{"type":"P","run":"pi7","strain":0.064,"force":495},
{"type":"P","run":"ps1","strain":0,"force":32},{"type":"P","run":"ps1","strain":0.0015,"force":160},{"type":"P","run":"ps1","strain":0.003,"force":300},{"type":"P","run":"ps1","strain":0.0045,"force":410},{"type":"P","run":"ps1","strain":0.006,"force":490},{"type":"P","run":"ps1","strain":0.008,"force":555},{"type":"P","run":"ps1","strain":0.01,"force":600},{"type":"P","run":"ps1","strain":0.013,"force":654},{"type":"P","run":"ps1","strain":0.016,"force":696},{"type":"P","run":"ps1","strain":0.02,"force":764},{"type":"P","run":"ps1","strain":0.024,"force":806},{"type":"P","run":"ps1","strain":0.028,"force":856},{"type":"P","run":"ps1","strain":0.032,"force":896},{"type":"P","run":"ps1","strain":0.036,"force":940},{"type":"P","run":"ps1","strain":0.04,"force":970},{"type":"P","run":"ps1","strain":0.0435,"force":1000},
{"type":"P","run":"ps2","strain":0,"force":32},{"type":"P","run":"ps2","strain":0.0015,"force":155},{"type":"P","run":"ps2","strain":0.003,"force":290},{"type":"P","run":"ps2","strain":0.0045,"force":400},{"type":"P","run":"ps2","strain":0.006,"force":480},{"type":"P","run":"ps2","strain":0.008,"force":545},{"type":"P","run":"ps2","strain":0.01,"force":590},{"type":"P","run":"ps2","strain":0.013,"force":639},{"type":"P","run":"ps2","strain":0.016,"force":676},{"type":"P","run":"ps2","strain":0.02,"force":744},{"type":"P","run":"ps2","strain":0.024,"force":781},{"type":"P","run":"ps2","strain":0.028,"force":826},{"type":"P","run":"ps2","strain":0.032,"force":861},{"type":"P","run":"ps2","strain":0.036,"force":906},{"type":"P","run":"ps2","strain":0.04,"force":931},{"type":"P","run":"ps2","strain":0.044,"force":974},{"type":"P","run":"ps2","strain":0.047,"force":1000},
{"type":"P","run":"ps3","strain":0,"force":31},{"type":"P","run":"ps3","strain":0.0015,"force":150},{"type":"P","run":"ps3","strain":0.003,"force":280},{"type":"P","run":"ps3","strain":0.0045,"force":395},{"type":"P","run":"ps3","strain":0.006,"force":470},{"type":"P","run":"ps3","strain":0.008,"force":535},{"type":"P","run":"ps3","strain":0.01,"force":580},{"type":"P","run":"ps3","strain":0.014,"force":624},{"type":"P","run":"ps3","strain":0.018,"force":666},{"type":"P","run":"ps3","strain":0.022,"force":719},{"type":"P","run":"ps3","strain":0.026,"force":756},{"type":"P","run":"ps3","strain":0.03,"force":806},{"type":"P","run":"ps3","strain":0.034,"force":831},{"type":"P","run":"ps3","strain":0.038,"force":879},{"type":"P","run":"ps3","strain":0.042,"force":901},{"type":"P","run":"ps3","strain":0.046,"force":954},{"type":"P","run":"ps3","strain":0.05,"force":995},
{"type":"P","run":"ps4","strain":0,"force":31},{"type":"P","run":"ps4","strain":0.0015,"force":145},{"type":"P","run":"ps4","strain":0.003,"force":275},{"type":"P","run":"ps4","strain":0.0045,"force":385},{"type":"P","run":"ps4","strain":0.006,"force":465},{"type":"P","run":"ps4","strain":0.008,"force":525},{"type":"P","run":"ps4","strain":0.01,"force":565},{"type":"P","run":"ps4","strain":0.014,"force":614},{"type":"P","run":"ps4","strain":0.018,"force":646},{"type":"P","run":"ps4","strain":0.022,"force":694},{"type":"P","run":"ps4","strain":0.026,"force":731},{"type":"P","run":"ps4","strain":0.03,"force":774},{"type":"P","run":"ps4","strain":0.034,"force":796},{"type":"P","run":"ps4","strain":0.038,"force":844},{"type":"P","run":"ps4","strain":0.042,"force":866},{"type":"P","run":"ps4","strain":0.046,"force":909},{"type":"P","run":"ps4","strain":0.05,"force":946},{"type":"P","run":"ps4","strain":0.054,"force":995},
{"type":"P","run":"ps5","strain":0,"force":30},{"type":"P","run":"ps5","strain":0.0015,"force":145},{"type":"P","run":"ps5","strain":0.003,"force":270},{"type":"P","run":"ps5","strain":0.0045,"force":380},{"type":"P","run":"ps5","strain":0.006,"force":460},{"type":"P","run":"ps5","strain":0.008,"force":520},{"type":"P","run":"ps5","strain":0.01,"force":560},{"type":"P","run":"ps5","strain":0.014,"force":604},{"type":"P","run":"ps5","strain":0.018,"force":636},{"type":"P","run":"ps5","strain":0.022,"force":679},{"type":"P","run":"ps5","strain":0.026,"force":711},{"type":"P","run":"ps5","strain":0.03,"force":749},{"type":"P","run":"ps5","strain":0.034,"force":776},{"type":"P","run":"ps5","strain":0.038,"force":814},{"type":"P","run":"ps5","strain":0.042,"force":836},{"type":"P","run":"ps5","strain":0.046,"force":879},{"type":"P","run":"ps5","strain":0.05,"force":901},{"type":"P","run":"ps5","strain":0.054,"force":954},{"type":"P","run":"ps5","strain":0.058,"force":990},
{"type":"P","run":"ps6","strain":0,"force":30},{"type":"P","run":"ps6","strain":0.0015,"force":140},{"type":"P","run":"ps6","strain":0.003,"force":265},{"type":"P","run":"ps6","strain":0.0045,"force":375},{"type":"P","run":"ps6","strain":0.006,"force":455},{"type":"P","run":"ps6","strain":0.008,"force":515},{"type":"P","run":"ps6","strain":0.01,"force":555},{"type":"P","run":"ps6","strain":0.014,"force":599},{"type":"P","run":"ps6","strain":0.018,"force":626},{"type":"P","run":"ps6","strain":0.022,"force":669},{"type":"P","run":"ps6","strain":0.026,"force":696},{"type":"P","run":"ps6","strain":0.03,"force":739},{"type":"P","run":"ps6","strain":0.034,"force":761},{"type":"P","run":"ps6","strain":0.038,"force":804},{"type":"P","run":"ps6","strain":0.042,"force":821},{"type":"P","run":"ps6","strain":0.046,"force":864},{"type":"P","run":"ps6","strain":0.05,"force":886},{"type":"P","run":"ps6","strain":0.054,"force":924},{"type":"P","run":"ps6","strain":0.058,"force":951},{"type":"P","run":"ps6","strain":0.062,"force":985},
{"type":"P","run":"ps7","strain":0,"force":30},{"type":"P","run":"ps7","strain":0.0015,"force":140},{"type":"P","run":"ps7","strain":0.003,"force":260},{"type":"P","run":"ps7","strain":0.0045,"force":370},{"type":"P","run":"ps7","strain":0.006,"force":450},{"type":"P","run":"ps7","strain":0.008,"force":510},{"type":"P","run":"ps7","strain":0.01,"force":550},{"type":"P","run":"ps7","strain":0.015,"force":594},{"type":"P","run":"ps7","strain":0.02,"force":621},{"type":"P","run":"ps7","strain":0.025,"force":669},{"type":"P","run":"ps7","strain":0.03,"force":696},{"type":"P","run":"ps7","strain":0.035,"force":744},{"type":"P","run":"ps7","strain":0.04,"force":766},{"type":"P","run":"ps7","strain":0.045,"force":809},{"type":"P","run":"ps7","strain":0.05,"force":846},{"type":"P","run":"ps7","strain":0.055,"force":894},{"type":"P","run":"ps7","strain":0.06,"force":931},{"type":"P","run":"ps7","strain":0.063,"force":969},{"type":"P","run":"ps7","strain":0.066,"force":990}
]},
"layer":[
{"data":{"values":[{}]},
 "mark":{"type":"rule","color":"#000000","strokeWidth":3.5,"clip":false},
 "encoding":{"x":{"datum":-0.0341,"type":"quantitative"},"y":{"datum":1429,"type":"quantitative"},"y2":{"datum":-400}}},
{"data":{"values":[{}]},
 "mark":{"type":"rule","color":"#000000","strokeWidth":3.5,"clip":false},
 "encoding":{"x":{"datum":-0.0347,"type":"quantitative"},"x2":{"datum":0.3},"y":{"datum":1429,"type":"quantitative"}}},
{"data":{"name":"curves"},
 "mark":{"type":"line","strokeWidth":1.1,"clip":true},
 "encoding":{
  "x":{"field":"strain","type":"quantitative","scale":{"domain":[0,0.25],"nice":false,"zero":false},
   "axis":{"values":[0,0.05,0.1,0.15,0.2,0.25],"format":"~g","title":"strain","titleFontSize":17,"titleFontWeight":"bold","titlePadding":6,"labelFontSize":16,"labelPadding":14,"tickSize":5,"grid":false,"domain":false,"labelFlush":false,"labelOverlap":false,"labelBound":false}},
  "y":{"field":"force","type":"quantitative","scale":{"domain":[0,1200],"nice":false},
   "axis":{"values":[0,200,400,600,800,1000,1200],"format":"d","title":"compression force [N]","titleFontSize":17,"titleFontWeight":"bold","titlePadding":10,"labelFontSize":16,"labelPadding":8,"tickSize":6,"grid":true,"gridColor":"#404040","gridWidth":1,"domain":false,"labelFlush":false,"labelOverlap":false,"labelBound":false}},
  "color":{"field":"type","type":"nominal","scale":{"domain":["S","G","P"],"range":["#000000","#00ff00","#800080"]},
   "legend":{"orient":"none","legendX":501,"legendY":23,"title":null,"symbolType":"stroke","symbolSize":400,"symbolStrokeWidth":1.5,"labelFontSize":15,"labelFont":"Liberation Sans","labelColor":"#000000","labelOffset":2,"rowPadding":9,"padding":0,
   "labelExpr":"datum.label=='S'?'Standard ceramic':datum.label=='G'?'Ceramic 50% porosity':'Ceramic 0% porosity'"}},
  "detail":{"field":"run","type":"nominal"}}},
{"data":{"values":[{}]},
 "mark":{"type":"rect","fill":"#ffffff","stroke":"#000000","strokeWidth":2,"clip":false},
 "encoding":{"x":{"datum":0.16935,"type":"quantitative"},"x2":{"datum":0.24159},"y":{"datum":1134,"type":"quantitative"},"y2":{"datum":832.3}}},
{"data":{"name":"notes"},
 "mark":{"type":"rect","fill":"#ffffff","stroke":"#000000","strokeWidth":1.5},
 "encoding":{"x":{"field":"x1","type":"quantitative"},"x2":{"field":"x2"},"y":{"field":"y1","type":"quantitative"},"y2":{"field":"y2"}}},
{"data":{"name":"notes"},
 "mark":{"type":"text","fontWeight":"bold","fontSize":13,"font":"Liberation Sans","color":"#000000","align":"center","baseline":"middle"},
 "encoding":{"x":{"field":"cx","type":"quantitative"},"y":{"field":"cy","type":"quantitative"},"text":{"field":"label"}}},
{"data":{"name":"arrows"},
 "mark":{"type":"rule","color":"#000000","strokeWidth":1.2},
 "encoding":{"x":{"field":"from","type":"quantitative"},"x2":{"field":"to"},"y":{"field":"level","type":"quantitative"}}},
{"data":{"name":"arrows"},
 "mark":{"type":"point","shape":"M0,0L2,-0.6L2,0.6Z","filled":true,"size":81,"color":"#000000","opacity":1,"strokeWidth":0},
 "encoding":{"x":{"field":"from","type":"quantitative"},"y":{"field":"level","type":"quantitative"}}},
{"data":{"name":"arrows"},
 "mark":{"type":"point","shape":"M0,0L-2,-0.6L-2,0.6Z","filled":true,"size":81,"color":"#000000","opacity":1,"strokeWidth":0},
 "encoding":{"x":{"field":"to","type":"quantitative"},"y":{"field":"level","type":"quantitative"}}}
],
"config":{
 "font":"Liberation Sans",
 "view":{"stroke":"#000000","strokeWidth":2},
 "axis":{"labelFont":"Liberation Sans","titleFont":"Liberation Sans","labelColor":"#000000","titleColor":"#000000","tickColor":"#000000","tickWidth":1}
}
}
